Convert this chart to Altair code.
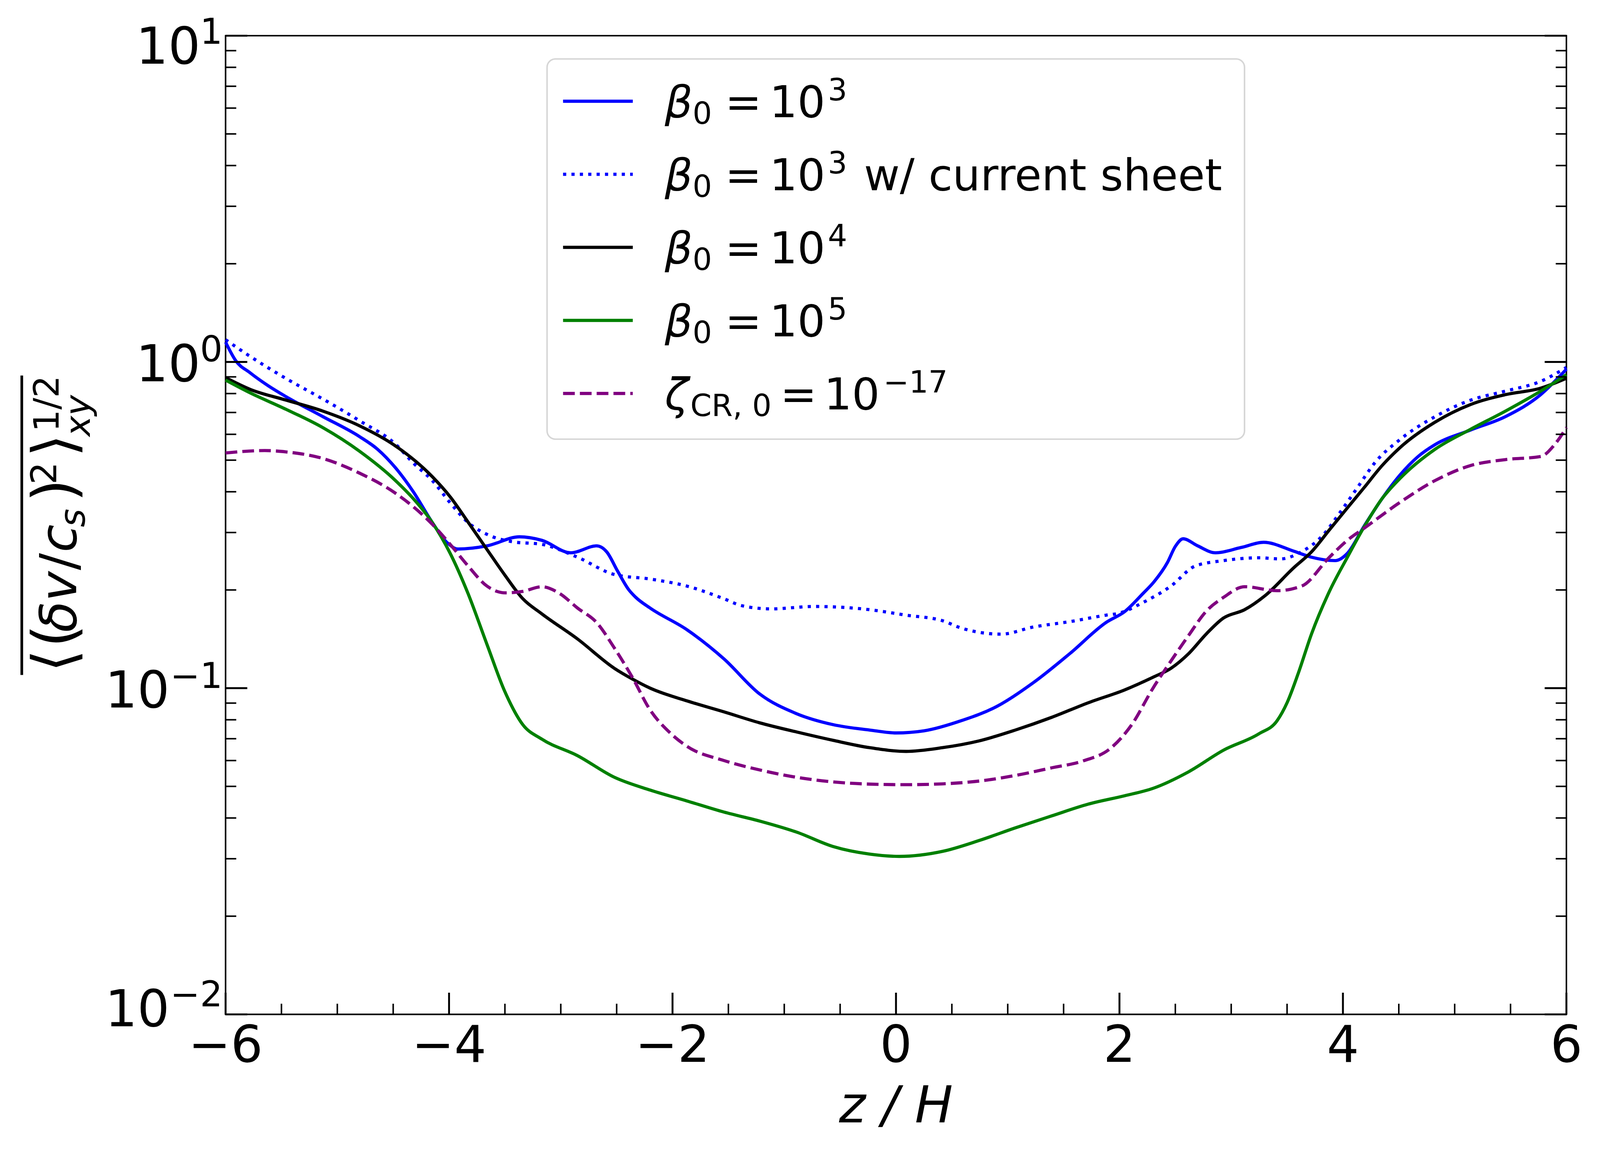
import altair as alt
import pandas as pd

# ---------------- data ----------------
z_b3 = [-6.0, -5.91, -5.78, -5.62, -5.46, -5.13, -4.80, -4.64, -4.48, -4.32, -4.15, -4.02, -3.92,
        -3.66, -3.37, -3.17, -2.91, -2.68, -2.59, -2.49, -2.39, -2.33, -2.20, -1.87, -1.54, -1.22,
        -0.889, -0.563, -0.236, 0.0, 0.25, 0.58, 0.905, 1.23, 1.56, 1.88, 2.05, 2.21, 2.31, 2.43,
        2.50, 2.57, 2.70, 2.86, 3.09, 3.29, 3.56, 3.72, 3.93, 4.04, 4.19, 4.35, 4.51, 4.67, 4.825,
        5.14, 5.455, 5.77, 6.0]
v_b3 = [1.15, 1.01, 0.926, 0.846, 0.783, 0.68, 0.59, 0.54, 0.474, 0.40, 0.322, 0.28, 0.267,
        0.273, 0.291, 0.284, 0.26, 0.273, 0.262, 0.228, 0.20, 0.19, 0.176, 0.151, 0.123, 0.096,
        0.0835, 0.0773, 0.0744, 0.0729, 0.074, 0.0794, 0.088, 0.104, 0.128, 0.159, 0.172, 0.195, 0.212, 0.243,
        0.272, 0.287, 0.273, 0.26, 0.27, 0.28, 0.263, 0.252, 0.246, 0.259, 0.314, 0.381, 0.45, 0.512, 0.558,
        0.618, 0.68, 0.794, 0.95]

z_b3cs = [-6.0, -5.78, -5.46, -5.13, -4.80, -4.48, -4.32, -4.15, -3.99, -3.83, -3.66, -3.43, -3.17,
          -2.85, -2.52, -2.20, -1.87, -1.54, -1.38, -1.12, -0.73, -0.236, 0.09, 0.416, 0.58, 0.94,
          1.23, 1.56, 1.88, 1.99, 2.21, 2.46, 2.68, 2.93, 3.25, 3.44, 3.63, 3.82, 3.97, 4.13, 4.29,
          4.51, 4.825, 5.14, 5.455, 5.77, 6.0]
v_b3cs = [1.17, 1.04, 0.89, 0.77, 0.66, 0.56, 0.49, 0.433, 0.37, 0.322, 0.296, 0.281, 0.276,
          0.252, 0.223, 0.216, 0.2055, 0.188, 0.179, 0.175, 0.178, 0.174, 0.1674, 0.161, 0.153, 0.1464,
          0.154, 0.160, 0.1674, 0.1695, 0.183, 0.2055, 0.237, 0.246, 0.251, 0.249, 0.262, 0.294, 0.344, 0.412, 0.493,
          0.578, 0.68, 0.763, 0.814, 0.872, 0.962]

z_b4 = [-6.0, -5.78, -5.46, -5.13, -4.80, -4.48, -4.15, -3.99, -3.83, -3.66, -3.50, -3.34, -3.17,
        -2.85, -2.52, -2.36, -2.20, -1.87, -1.54, -1.22, -0.889, -0.563, -0.236, 0.09, 0.416, 0.742,
        1.068, 1.394, 1.72, 2.047, 2.30, 2.46, 2.62, 2.78, 2.93, 3.12, 3.31, 3.56, 3.72, 3.88, 4.04,
        4.19, 4.35, 4.51, 4.825, 5.14, 5.455, 5.77, 6.0]
v_b4 = [0.895, 0.824, 0.764, 0.707, 0.637, 0.553, 0.445, 0.386, 0.323, 0.266, 0.222, 0.188, 0.169,
        0.1415, 0.115, 0.1067, 0.100, 0.0914, 0.0846, 0.0783, 0.0734, 0.0692, 0.0657, 0.064, 0.0657, 0.0689,
        0.0744, 0.0814, 0.0902, 0.0988, 0.108, 0.115, 0.1277, 0.147, 0.164, 0.174, 0.193, 0.234, 0.262, 0.306, 0.357,
        0.412, 0.481, 0.546, 0.654, 0.74, 0.794, 0.831, 0.891]

z_b5 = [-6.0, -5.78, -5.46, -5.13, -4.80, -4.48, -4.32, -4.15, -3.99, -3.83, -3.66, -3.50, -3.34,
        -3.17, -2.85, -2.52, -2.20, -1.87, -1.54, -1.215, -0.889, -0.563, -0.236, 0.03, 0.416, 0.742,
        1.068, 1.394, 1.72, 2.047, 2.30, 2.618, 2.933, 3.249, 3.41, 3.50, 3.60, 3.72, 3.879, 4.04,
        4.194, 4.35, 4.51, 4.825, 5.14, 5.455, 5.77, 6.0]
v_b5 = [0.88, 0.804, 0.716, 0.629, 0.532, 0.433, 0.381, 0.322, 0.259, 0.195, 0.136, 0.0975, 0.0773,
        0.0698, 0.0621, 0.0533, 0.0487, 0.0451, 0.0417, 0.0391, 0.0362, 0.0327, 0.031, 0.0305, 0.0316, 0.0341,
        0.0373, 0.0406, 0.0441, 0.0468, 0.0493, 0.0554, 0.0646, 0.0725, 0.0794, 0.0902, 0.111, 0.147, 0.198, 0.252,
        0.314, 0.381, 0.439, 0.54, 0.621, 0.707, 0.814, 0.914]

z_cr = [-6.0, -5.65, -5.46, -5.13, -4.80, -4.48, -4.15, -3.99, -3.83, -3.66, -3.50, -3.34, -3.17,
        -3.01, -2.85, -2.68, -2.52, -2.36, -2.20, -2.03, -1.87, -1.54, -1.215, -0.889, -0.563, -0.236,
        0.09, 0.416, 0.742, 1.068, 1.394, 1.672, 1.92, 2.11, 2.30, 2.46, 2.618, 2.776, 2.933, 3.12,
        3.41, 3.63, 3.879, 4.04, 4.194, 4.51, 4.825, 5.14, 5.455, 5.77, 5.90, 6.0]
v_cr = [0.526, 0.535, 0.530, 0.506, 0.456, 0.396, 0.318, 0.276, 0.237, 0.2055, 0.196, 0.198, 0.2046,
        0.195, 0.176, 0.159, 0.1327, 0.108, 0.0857, 0.0734, 0.0663, 0.0600, 0.0561, 0.0533, 0.0516, 0.0508,
        0.0506, 0.0509, 0.0519, 0.054, 0.057, 0.0598, 0.0654, 0.0773, 0.1, 0.121, 0.145, 0.172, 0.19, 0.2046,
        0.199, 0.2055, 0.252, 0.284, 0.31, 0.371, 0.433, 0.481, 0.502, 0.513, 0.561, 0.629]

x_major = [-6, -4, -2, 0, 2, 4, 6]
x_labels = ["\u22126", "\u22124", "\u22122", "0", "2", "4", "6"]
x_minor = [-5.5, -5, -4.5, -3.5, -3, -2.5, -1.5, -1, -0.5, 0.5, 1, 1.5, 2.5, 3, 3.5, 4.5, 5, 5.5]
y_major = [0.01, 0.1, 1, 10]
y_exps = ["\u22122", "\u22121", "0", "1"]
y_minor = [0.02, 0.03, 0.04, 0.05, 0.06, 0.07, 0.08, 0.09,
           0.2, 0.3, 0.4, 0.5, 0.6, 0.7, 0.8, 0.9,
           2, 3, 4, 5, 6, 7, 8, 9]

leg_greek = ["\u03b2", "\u03b2", "\u03b2", "\u03b2", "\u03b6"]
leg_sub = ["0", "0", "0", "0", "CR, 0"]
leg_sup = ["3", "3", "4", "5", "\u221217"]
leg_suffix = ["", "w/ current sheet", "", "", ""]
leg_color = ["blue", "blue", "black", "green", "purple"]
leg_dash = [None, [8.3, 13.7], None, None, [30.8, 13.3]]

# ---------------- layout ----------------
W, H = 3520, 2569
OX, OY = 592, 94          # where the plot origin should land in the picture
SHIFT = 38                # observed extra vertical offset of the page
FONT = "DejaVu Sans"
LW = 8.3

xs = alt.Scale(domain=[-6, 6], nice=False, zero=False)
ys = alt.Scale(type="log", domain=[0.01, 10], nice=False)
one = pd.DataFrame({"a": [0]})


def line_layer(z, v, color, dash=None):
    df = pd.DataFrame({"z": z, "v": v})
    kw = dict(color=color, strokeWidth=LW, interpolate="monotone")
    if dash:
        kw["strokeDash"] = dash
    return alt.Chart(df).mark_line(**kw).encode(
        x=alt.X("z:Q", scale=xs, axis=None),
        y=alt.Y("v:Q", scale=ys, axis=None),
    )


def txt(text, x, y, size, italic=False, align="left", angle=None):
    kw = dict(text=text, font=FONT, fontSize=size, align=align,
              baseline="alphabetic", color="black")
    if italic:
        kw["fontStyle"] = "italic"
    if angle is not None:
        kw["angle"] = angle
    return alt.Chart(one).mark_text(**kw).encode(
        x=alt.value(x - OX), y=alt.value(y - OY))


layers = []

# curves
layers.append(line_layer(z_b3, v_b3, "blue"))
layers.append(line_layer(z_b3cs, v_b3cs, "blue", [8.3, 13.7]))
layers.append(line_layer(z_b4, v_b4, "black"))
layers.append(line_layer(z_b5, v_b5, "green"))
layers.append(line_layer(z_cr, v_cr, "purple", [30.8, 13.3]))

# inward ticks
def xtick(vals, L, w):
    return alt.Chart(pd.DataFrame({"t": vals})).mark_rule(color="black", strokeWidth=w).encode(
        x=alt.X("t:Q", scale=xs, axis=None), y=alt.value(H), y2=alt.value(H - L))


def ytick(vals, L, w, right=False):
    x0 = W if right else 0
    x1 = W - L if right else L
    return alt.Chart(pd.DataFrame({"t": vals})).mark_rule(color="black", strokeWidth=w).encode(
        y=alt.Y("t:Q", scale=ys, axis=None), x=alt.value(x0), x2=alt.value(x1))


layers += [xtick(x_major, 57, 5), xtick(x_minor, 28, 4),
           ytick(y_major, 57, 5), ytick(y_minor, 28, 4),
           ytick(y_major, 57, 5, True), ytick(y_minor, 28, 4, True)]

# x tick labels
layers.append(alt.Chart(pd.DataFrame({"t": x_major, "lab": x_labels})).mark_text(
    font=FONT, fontSize=133, align="center", baseline="alphabetic", color="black").encode(
    x=alt.X("t:Q", scale=xs, axis=None), y=alt.value(2788 - OY), text="lab:N"))

# y tick labels: 10^e (a small nudge keeps the outer two clear of the edge / x labels)
ydf = pd.DataFrame({"t": y_major, "e": y_exps})
nudge = {"1": 22, "0": 0, "\u22121": 0, "\u22122": -20}
for e in y_exps:
    sel = alt.Chart(ydf).transform_filter(alt.datum.e == e)
    bx = -147 if e.startswith("\u2212") else -66
    layers.append(sel.mark_text(
        text="10", font=FONT, fontSize=133, align="right", baseline="alphabetic",
        dy=51 + nudge[e], color="black").encode(
        y=alt.Y("t:Q", scale=ys, axis=None), x=alt.value(bx)))
    layers.append(sel.mark_text(
        font=FONT, fontSize=93, align="right", baseline="alphabetic",
        dy=-1 + nudge[e], color="black").encode(
        y=alt.Y("t:Q", scale=ys, axis=None), x=alt.value(-8), text="e:N"))

# x title
layers.append(txt("z / H", 2352, 2946, 133, italic=True, align="center"))

# y title (rotated, built from pieces)
ytitle = [("\u27e8", 196, 1765, 155, False), ("(", 196, 1700, 155, False),
          ("\u03b4v", 200, 1660, 133, True), ("/", 200, 1497, 133, False),
          ("c", 200, 1450, 133, True), ("s", 222, 1384, 93, True),
          (")", 196, 1318, 155, False), ("2", 147, 1272, 93, False),
          ("\u27e9", 196, 1200, 155, False), ("1/2", 154, 1134, 92, False),
          ("xy", 236, 1146, 92, True)]
for t, x, y, s, it in ytitle:
    layers.append(txt(t, x, y, s, italic=it, angle=270))
layers.append(alt.Chart(one).mark_rule(color="black", strokeWidth=7).encode(
    x=alt.value(57 - OX), y=alt.value(986 - OY), y2=alt.value(1772 - OY)))

# legend
layers.append(alt.Chart(one).mark_rect(fill="white", fillOpacity=0.8, stroke="#d6d6d6",
                                       strokeWidth=4, cornerRadius=22).encode(
    x=alt.value(1436 - OX), x2=alt.value(3267 - OX), y=alt.value(155 - OY), y2=alt.value(1153 - OY)))
for i in range(5):
    yc = 266 + i * 191.75
    kw = dict(color=leg_color[i], strokeWidth=LW)
    if leg_dash[i]:
        kw["strokeDash"] = leg_dash[i]
    layers.append(alt.Chart(one).mark_rule(**kw).encode(
        x=alt.value(1478 - OX), x2=alt.value(1661 - OX), y=alt.value(yc - OY)))
    yb = yc + 42
    long_sub = len(leg_sub[i]) > 1
    layers.append(txt(leg_greek[i], 1745, yb, 115, italic=True))
    layers.append(txt(leg_sub[i], 1812 if long_sub else 1818, yb + 17, 80))
    layers.append(txt("=", 2048 if long_sub else 1903, yb, 115))
    layers.append(txt("10", 2163 if long_sub else 2020, yb, 115))
    layers.append(txt(leg_sup[i], 2319 if long_sub else 2173, yb - 44, 80))
    if leg_suffix[i]:
        layers.append(txt(leg_suffix[i], 2268, yb, 115))

top_pad = OY - 8 - SHIFT
total_h = 3000 - 16 - SHIFT
chart = alt.layer(*layers).properties(
    width=W, height=H,
    autosize=alt.AutoSizeParams(type="none"),
    padding={"left": OX - 8, "top": top_pad, "right": 80,
             "bottom": total_h - top_pad - H},
).configure_view(stroke="black", strokeWidth=4)

chart.save("out.html", embed_options={"renderer": "svg", "actions": False})
